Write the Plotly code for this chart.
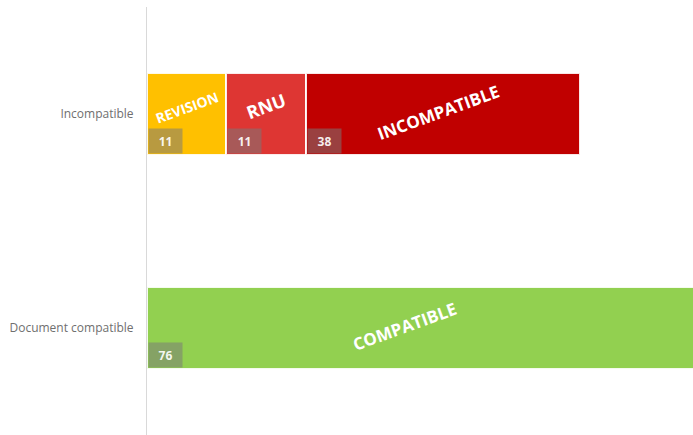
import plotly.graph_objects as go

# ---- data ----
categories = ["Document compatible", "Incompatible"]
series_names = ["REVISION", "RNU", "INCOMPATIBLE", "COMPATIBLE"]
revision = [None, 11]
rnu = [None, 11]
incompatible = [None, 38]
compatible = [76, None]

# ---- styles ----
colors = {"REVISION": "#FFC000", "RNU": "#DE3633", "INCOMPATIBLE": "#C00000", "COMPATIBLE": "#92D050"}
label_sizes = {"REVISION": 14, "RNU": 18, "INCOMPATIBLE": 17, "COMPATIBLE": 17}
label_shift = {"REVISION": (0, 7), "RNU": (0, 8), "INCOMPATIBLE": (-5, 2), "COMPATIBLE": (-17, 2)}
BAR_W = 0.383
FONT = "Open Sans"

values = {"REVISION": revision, "RNU": rnu, "INCOMPATIBLE": incompatible, "COMPATIBLE": compatible}

fig = go.Figure()
for name in series_names:
    fig.add_trace(go.Bar(
        y=categories, x=values[name], name=name, orientation="h",
        width=BAR_W,
        marker=dict(color=colors[name], line=dict(color="rgba(255,255,255,0.9)", width=2)),
        hoverinfo="x+name",
    ))

annotations = []
for ci, cat in enumerate(categories):
    base = 0
    for name in series_names:
        v = values[name][ci]
        if v is None:
            continue
        dx, dy = label_shift[name]
        annotations.append(dict(
            x=base + v / 2, y=ci, xref="x", yref="y", text=f"<b>{name}</b>",
            showarrow=False, textangle=-20, xshift=dx, yshift=dy,
            font=dict(family=FONT, size=label_sizes[name], color="white"),
        ))
        annotations.append(dict(
            x=base, y=ci - BAR_W / 2, xref="x", yref="y", text=f"<b>{v}</b>",
            showarrow=False, xanchor="left", yanchor="bottom", xshift=1, yshift=1,
            width=33, height=24, borderpad=0, align="center", valign="middle",
            bgcolor="rgba(120,120,120,0.53)",
            font=dict(family=FONT, size=12, color="rgba(255,255,255,0.92)"),
        ))
        base += v

fig.update_layout(
    barmode="stack",
    width=693, height=435,
    margin=dict(l=147, r=0, t=7, b=0),
    paper_bgcolor="white", plot_bgcolor="white",
    showlegend=False,
    annotations=annotations,
    bargap=0,
    xaxis=dict(range=[0, 75.7], showgrid=False, zeroline=False, showticklabels=False, showline=False),
    yaxis=dict(type="category", categoryorder="array", categoryarray=categories,
               range=[-0.5, 1.5], showline=True, linecolor="#D9D9D9", linewidth=1,
               showgrid=False, ticks="", ticklabelstandoff=10, automargin=False,
               tickfont=dict(family=FONT, size=12, color="#6F6F6F")),
)

fig.write_html("out.html",
               config={"displayModeBar": False},
               post_script="document.body.style.margin='0';document.body.style.overflow='hidden';")
